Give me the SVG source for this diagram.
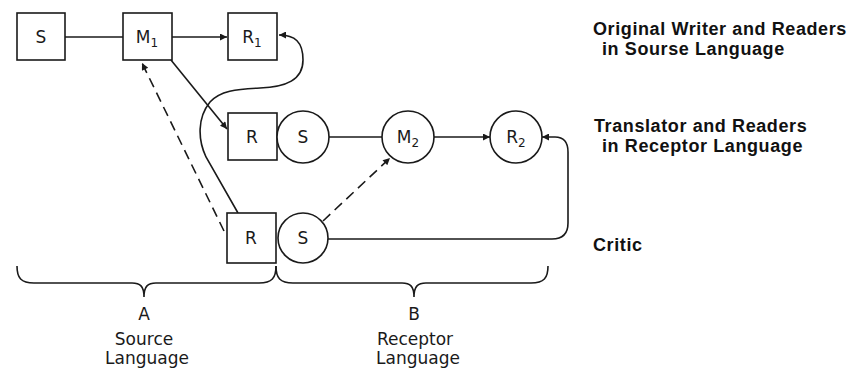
<svg xmlns="http://www.w3.org/2000/svg" width="855" height="370" viewBox="0 0 855 370">
  <style>
    .box { fill: #fff; stroke: #1a1a1a; stroke-width: 1.6; }
    .line { fill: none; stroke: #1a1a1a; stroke-width: 1.6; }
    .dash { fill: none; stroke: #1a1a1a; stroke-width: 1.6; stroke-dasharray: 10 6; }
    .lbl { font-family: "DejaVu Sans", "Liberation Sans", sans-serif; font-size: 17px; fill: #1a1a1a; text-anchor: middle; }
    .sub { font-size: 12px; }
    .side { font-family: "Liberation Sans", Arial, sans-serif; font-weight: bold; font-size: 18px; letter-spacing: 0.6px; fill: #111; }
  </style>
  <defs>
    <marker id="arr" viewBox="0 0 10 10" refX="10" refY="5" markerWidth="9" markerHeight="7" markerUnits="userSpaceOnUse" orient="auto">
      <path d="M0 0 L10 5 L0 10 Z" fill="#1a1a1a"/>
    </marker>
  </defs>

  <g id="connectors">
    <path class="line" d="M65 37 L123 37"/>
    <path class="line" d="M172 37 L227 37" marker-end="url(#arr)"/>
    <path class="line" d="M171 60 L227 129" marker-end="url(#arr)"/>
    <path class="line" d="M238 213 L206 157 C198 140 197 118 210 102 C220 91 236 89 260 88 C286 87 303 80 303 60 C303 42 295 35 279 35" marker-end="url(#arr)"/>
    <path class="dash" d="M224 231 L142 63" marker-end="url(#arr)"/>
    <path class="line" d="M329 137 L382 137"/>
    <path class="line" d="M434 137 L490 137" marker-end="url(#arr)"/>
    <path class="dash" d="M323 221 L390 158" marker-end="url(#arr)"/>
    <path class="line" d="M328 239 L552 239 Q568 239 568 223 L568 152 Q568 137 555 137 L542 137" marker-end="url(#arr)"/>
  </g>

  <g id="node-S1">
    <rect class="box" x="17" y="13" width="48" height="47"/>
    <text class="lbl" x="41" y="43">S</text>
  </g>
  <g id="node-M1">
    <rect class="box" x="123" y="13" width="49" height="47"/>
    <text class="lbl" x="147" y="43">M<tspan class="sub" dy="4">1</tspan></text>
  </g>
  <g id="node-R1">
    <rect class="box" x="228" y="13" width="49" height="47"/>
    <text class="lbl" x="252" y="43">R<tspan class="sub" dy="4">1</tspan></text>
  </g>
  <g id="node-R-translator">
    <rect class="box" x="228" y="113" width="49" height="47"/>
    <text class="lbl" x="252" y="143">R</text>
  </g>
  <g id="node-S-translator">
    <circle class="box" cx="303" cy="137" r="26"/>
    <text class="lbl" x="303" y="143">S</text>
  </g>
  <g id="node-M2">
    <circle class="box" cx="408" cy="137" r="26"/>
    <text class="lbl" x="408" y="143">M<tspan class="sub" dy="4">2</tspan></text>
  </g>
  <g id="node-R2">
    <circle class="box" cx="516" cy="137" r="26"/>
    <text class="lbl" x="516" y="143">R<tspan class="sub" dy="4">2</tspan></text>
  </g>
  <g id="node-R-critic">
    <rect class="box" x="227" y="213" width="49" height="50"/>
    <text class="lbl" x="251" y="244">R</text>
  </g>
  <g id="node-S-critic">
    <circle class="box" cx="303" cy="238" r="25"/>
    <text class="lbl" x="303" y="244">S</text>
  </g>

  <g id="brace-A">
    <path class="line" d="M17 266 C17 278 21 283 34 283 L132 283 C140 283 144 286 144 297 C144 286 148 283 156 283 L259 283 C272 283 276 278 276 266"/>
    <text class="lbl" x="144" y="320">A</text>
    <text class="lbl" x="144" y="345">Source</text>
    <text class="lbl" x="147" y="364">Language</text>
  </g>
  <g id="brace-B">
    <path class="line" d="M276 266 C276 278 280 283 293 283 L402 283 C410 283 414 286 414 297 C414 286 418 283 426 283 L531 283 C544 283 548 278 548 266"/>
    <text class="lbl" x="414" y="320">B</text>
    <text class="lbl" x="415" y="345">Receptor</text>
    <text class="lbl" x="418" y="364">Language</text>
  </g>

  <g id="side-labels">
    <text class="side" x="593" y="35">Original Writer and Readers</text>
    <text class="side" x="602" y="55">in Sourse Language</text>
    <text class="side" x="594" y="132">Translator and Readers</text>
    <text class="side" x="602" y="152">in Receptor Language</text>
    <text class="side" x="593" y="251">Critic</text>
  </g>
</svg>
